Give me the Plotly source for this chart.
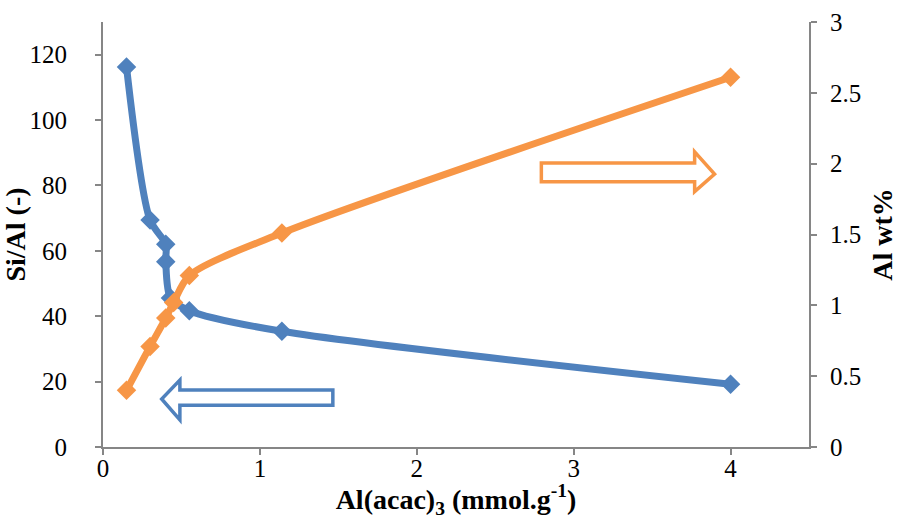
import plotly.graph_objects as go

# Al(acac)3 loading (mmol/g)
x_si_al = [0.15, 0.30, 0.40, 0.40, 0.43, 0.55, 1.14, 4.0]
si_al = [116.2, 69.4, 62.0, 56.7, 45.6, 41.7, 35.4, 19.2]

x_al_wt = [0.15, 0.30, 0.40, 0.45, 0.55, 1.14, 4.0]
al_wt = [0.40, 0.71, 0.91, 1.02, 1.21, 1.51, 2.61]

x_ticks = [0, 1, 2, 3, 4]
left_ticks = [0, 20, 40, 60, 80, 100, 120]
right_ticks = [0, 0.5, 1, 1.5, 2, 2.5, 3]
right_tick_text = ["0", "0.5", "1", "1.5", "2", "2.5", "3"]

BLUE = "#4F81BD"
ORANGE = "#F79646"
AXIS = "#868686"
FONT = "Liberation Serif"

fig = go.Figure()
fig.add_trace(go.Scatter(
    x=x_si_al, y=si_al, mode="lines+markers", name="Si/Al",
    line=dict(color=BLUE, width=7, shape="spline", smoothing=0.8),
    marker=dict(symbol="diamond", size=15, color=BLUE),
    yaxis="y", showlegend=False,
))
fig.add_trace(go.Scatter(
    x=x_al_wt, y=al_wt, mode="lines+markers", name="Al wt%",
    line=dict(color=ORANGE, width=7, shape="spline", smoothing=0.8),
    marker=dict(symbol="diamond", size=15, color=ORANGE),
    yaxis="y2", showlegend=False,
))


def arrow_path(x_tail, x_base, x_tip, y_lo, y_hi, y_head_lo, y_head_hi, y_mid):
    return (f"M {x_tail},{y_lo} L {x_base},{y_lo} L {x_base},{y_head_lo} "
            f"L {x_tip},{y_mid} L {x_base},{y_head_hi} L {x_base},{y_hi} "
            f"L {x_tail},{y_hi} Z")


# hollow arrow pointing to the left axis
fig.add_shape(type="path", xref="x", yref="y",
              path=arrow_path(1.465, 0.49, 0.374, 12.8, 17.4, 8.3, 20.5, 14.7),
              line=dict(color=BLUE, width=3.5), fillcolor="white")
# hollow arrow pointing to the right axis
fig.add_shape(type="path", xref="x", yref="y",
              path=arrow_path(2.794, 3.771, 3.898, 81.1, 86.9, 78.1, 90.3, 83.5),
              line=dict(color=ORANGE, width=3.5), fillcolor="white")

tick_font = dict(family=FONT, size=25, color="black")
title_font = dict(family=FONT, size=28, color="black")

fig.update_layout(
    width=898, height=519,
    margin=dict(l=103, r=89, t=22, b=72),
    plot_bgcolor="white", paper_bgcolor="white",
    xaxis=dict(
        range=[0, 4.5], tickvals=x_ticks, showgrid=False, zeroline=False,
        showline=True, linecolor=AXIS, linewidth=2, automargin=False,
        ticks="outside", ticklen=6, tickcolor=AXIS, tickwidth=1.5,
        tickfont=tick_font, ticklabelstandoff=-8,
        title=dict(text="<b>Al(acac)<sub>3</sub> (mmol.g<sup>-1</sup>)</b>",
                   font=title_font, standoff=8),
    ),
    yaxis=dict(
        range=[0, 130], tickvals=left_ticks, showgrid=False, zeroline=False,
        showline=True, linecolor=AXIS, linewidth=2, automargin=False,
        ticks="outside", ticklen=6, tickcolor=AXIS, tickwidth=1.5,
        tickfont=tick_font, ticklabelstandoff=23,
        title=dict(text="<b>Si/Al (-)</b>", font=title_font, standoff=0),
    ),
    yaxis2=dict(
        range=[0, 3], tickvals=right_ticks, ticktext=right_tick_text,
        overlaying="y", side="right", showgrid=False, zeroline=False,
        showline=True, linecolor=AXIS, linewidth=2, automargin=False,
        ticks="outside", ticklen=6, tickcolor=AXIS, tickwidth=1.5,
        tickfont=tick_font, ticklabelstandoff=8,
        title=dict(text="<b>Al wt%</b>", font=title_font, standoff=12),
    ),
)

fig.write_html("out.html")
